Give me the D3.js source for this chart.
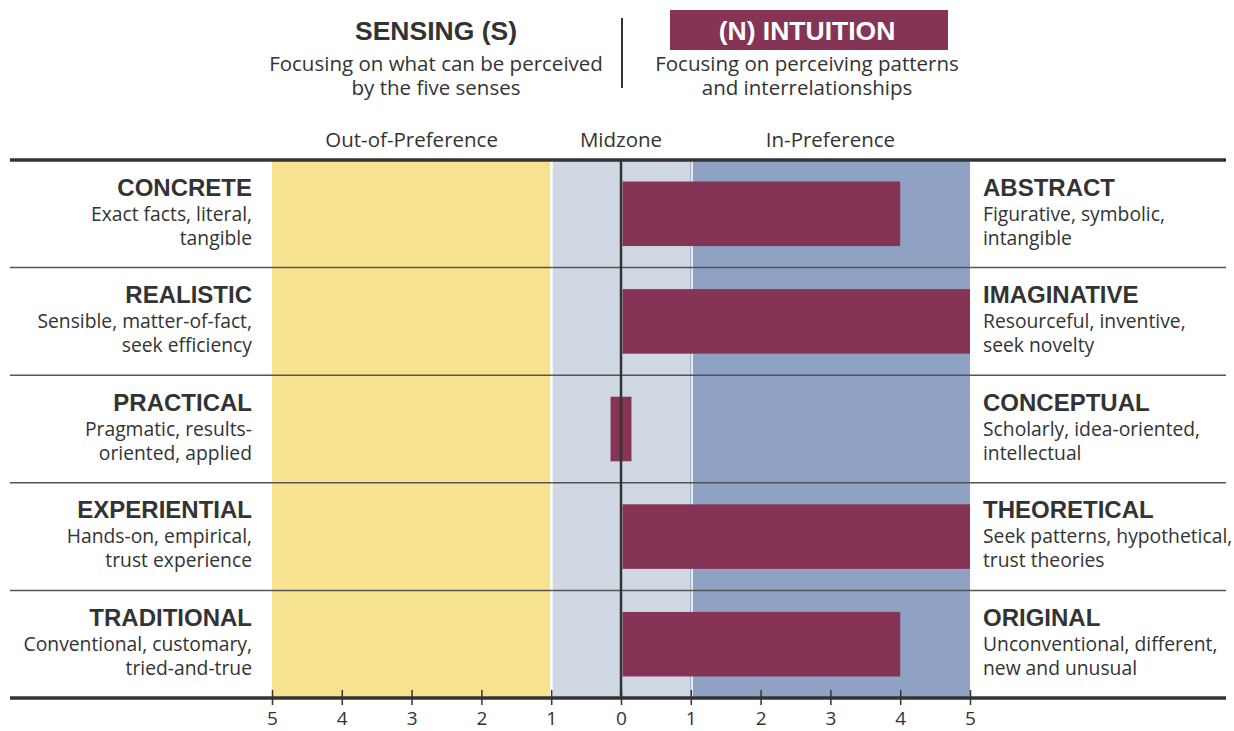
<!DOCTYPE html>
<html>
<head>
<meta charset="utf-8">
<script src="https://cdn.jsdelivr.net/npm/d3@7"></script>
<style>
  body { margin: 0; background: #fff; }
  svg { display: block; }
  .bold { font-family: "Liberation Sans", Arial, sans-serif; font-weight: bold; }
  .thin { font-family: "Open Sans", sans-serif; }
</style>
</head>
<body>
<div id="chart"></div>
<script>
var width = 1234;
var height = 731;

var rows = ['CONCRETE', 'REALISTIC', 'PRACTICAL', 'EXPERIENTIAL', 'TRADITIONAL'];
var leftDesc = [
  ['Exact facts, literal,', 'tangible'],
  ['Sensible, matter-of-fact,', 'seek efficiency'],
  ['Pragmatic, results-', 'oriented, applied'],
  ['Hands-on, empirical,', 'trust experience'],
  ['Conventional, customary,', 'tried-and-true']
];
var rightTitles = ['ABSTRACT', 'IMAGINATIVE', 'CONCEPTUAL', 'THEORETICAL', 'ORIGINAL'];
var rightDesc = [
  ['Figurative, symbolic,', 'intangible'],
  ['Resourceful, inventive,', 'seek novelty'],
  ['Scholarly, idea-oriented,', 'intellectual'],
  ['Seek patterns, hypothetical,', 'trust theories'],
  ['Unconventional, different,', 'new and unusual']
];
var barStart = [0, 0, -0.15, 0, 0];
var barEnd = [4, 5, 0.15, 5, 4];
var tickValues = [-5, -4, -3, -2, -1, 0, 1, 2, 3, 4, 5];
var zoneNames = ['Out-of-Preference', 'Midzone', 'In-Preference'];
var zoneFrom = [-5, -1, 1];
var zoneTo = [-1, 1, 5];

var zoneColors = ['#f7e38f', '#d0d8e3', '#8fa2c4'];
var barColor = '#853455';
var ink = '#333';

var x = d3.scaleLinear().domain([-5, 5]).range([272, 970]);
var y = d3.scaleBand().domain(rows).range([160, 698]);

var svg = d3.select('#chart')
  .append('svg')
  .attr('width', width)
  .attr('height', height);

// background zones
svg.selectAll('rect.zone')
  .data(zoneNames)
  .enter()
  .append('rect')
  .attr('class', 'zone')
  .attr('x', function(d, i) { return x(zoneFrom[i]) + (i === 0 ? 0 : (i === 1 ? 1.5 : 2)); })
  .attr('y', 160)
  .attr('width', function(d, i) { return x(zoneTo[i]) - x(zoneFrom[i]) - (i === 0 ? 1 : (i === 1 ? 1.5 : 2)); })
  .attr('height', 538)
  .attr('fill', function(d, i) { return zoneColors[i]; });

// thin boundary at +1
svg.append('line')
  .attr('x1', x(1)).attr('x2', x(1))
  .attr('y1', 160).attr('y2', 698)
  .attr('stroke', '#8fa2c4')
  .attr('stroke-width', 1);

// zone headings
svg.selectAll('text.zone')
  .data(zoneNames)
  .enter()
  .append('text')
  .attr('class', 'zone thin')
  .attr('x', function(d, i) { return i === 1 ? x(0) : (x(zoneFrom[i]) + x(zoneTo[i])) / 2; })
  .attr('y', 147)
  .attr('text-anchor', 'middle')
  .attr('font-size', 20.5)
  .attr('fill', ink)
  .text(function(d) { return d; });

// bars
svg.selectAll('rect.bar')
  .data(rows)
  .enter()
  .append('rect')
  .attr('class', 'bar')
  .attr('x', function(d, i) { return barStart[i] === 0 ? x(0) + 1.5 : x(barStart[i]); })
  .attr('y', function(d) { return y(d) + y.bandwidth() * 0.2; })
  .attr('width', function(d, i) { return x(barEnd[i]) - (barStart[i] === 0 ? x(0) + 1.5 : x(barStart[i])); })
  .attr('height', y.bandwidth() * 0.6)
  .attr('fill', barColor);

// row separators
svg.selectAll('line.sep')
  .data(rows.slice(1))
  .enter()
  .append('line')
  .attr('class', 'sep')
  .attr('x1', 10).attr('x2', 1226)
  .attr('y1', function(d) { return y(d); })
  .attr('y2', function(d) { return y(d); })
  .attr('stroke', '#555')
  .attr('stroke-width', 1.5);

// center line
svg.append('line')
  .attr('x1', x(0)).attr('x2', x(0))
  .attr('y1', 160).attr('y2', 698)
  .attr('stroke', ink)
  .attr('stroke-width', 2.5);

// top rule
svg.append('line')
  .attr('x1', 10).attr('x2', 1226)
  .attr('y1', 160).attr('y2', 160)
  .attr('stroke', ink).attr('stroke-width', 3.5);

// axis
var axis = d3.axisBottom(x)
  .tickValues(tickValues)
  .tickFormat(function(d) { return Math.abs(d); })
  .tickSize(7)
  .tickSizeOuter(0);

var g = svg.append('g')
  .attr('transform', 'translate(0,698)')
  .call(axis);
g.select('.domain').remove();
g.selectAll('.tick line')
  .attr('y1', -8)
  .attr('stroke', ink)
  .attr('stroke-width', 1.5);
g.selectAll('.tick text')
  .attr('class', 'thin')
  .attr('font-size', 19)
  .attr('fill', ink)
  .attr('y', 14)
  .attr('dy', '0.71em');

svg.append('line')
  .attr('x1', 10).attr('x2', 1226)
  .attr('y1', 698).attr('y2', 698)
  .attr('stroke', ink).attr('stroke-width', 3.5);

// row labels
function rowLabels(titles, descs, xPos, anchor) {
  var grp = svg.selectAll(null)
    .data(titles)
    .enter()
    .append('g')
    .attr('transform', function(d, i) { return 'translate(' + xPos + ',' + y(rows[i]) + ')'; });
  grp.append('text')
    .attr('class', 'bold')
    .attr('y', 35.5)
    .attr('text-anchor', anchor)
    .attr('font-size', 24)
    .attr('fill', ink)
    .text(function(d) { return d; });
  grp.each(function(d, i) {
    d3.select(this).selectAll('text.desc')
      .data(descs[i])
      .enter()
      .append('text')
      .attr('class', 'desc thin')
      .attr('y', function(t, j) { return 60.5 + j * 24; })
      .attr('text-anchor', anchor)
      .attr('font-size', 19.3)
      .attr('fill', ink)
      .text(function(t) { return t; });
  });
}
rowLabels(rows, leftDesc, 252, 'end');
rowLabels(rightTitles, rightDesc, 983, 'start');

// header
svg.append('text')
  .attr('class', 'bold')
  .attr('x', 436).attr('y', 40)
  .attr('text-anchor', 'middle')
  .attr('font-size', 26.5)
  .attr('fill', ink)
  .text('SENSING (S)');

svg.append('rect')
  .attr('x', 670).attr('y', 10)
  .attr('width', 278).attr('height', 40)
  .attr('fill', barColor);

svg.append('text')
  .attr('class', 'bold')
  .attr('x', 807).attr('y', 40)
  .attr('text-anchor', 'middle')
  .attr('font-size', 26.5)
  .attr('fill', '#fff')
  .text('(N) INTUITION');

svg.append('line')
  .attr('x1', 622).attr('x2', 622)
  .attr('y1', 18).attr('y2', 88)
  .attr('stroke', ink).attr('stroke-width', 2);

var subLeft = ['Focusing on what can be perceived', 'by the five senses'];
var subRight = ['Focusing on perceiving patterns', 'and interrelationships'];
[[subLeft, 436], [subRight, 807]].forEach(function(s) {
  svg.selectAll(null)
    .data(s[0])
    .enter()
    .append('text')
    .attr('class', 'thin')
    .attr('x', s[1])
    .attr('y', function(d, j) { return 71 + j * 24; })
    .attr('text-anchor', 'middle')
    .attr('font-size', 20.5)
    .attr('fill', ink)
    .text(function(d) { return d; });
});
</script>
</body>
</html>
